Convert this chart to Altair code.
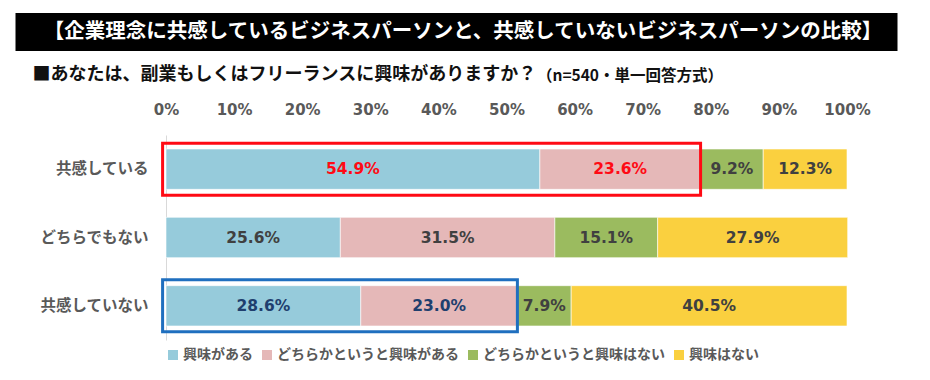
import altair as alt
import pandas as pd

# ---- data ----
categories = ["共感している", "どちらでもない", "共感していない"]
responses = ["興味がある", "どちらかというと興味がある", "どちらかというと興味はない", "興味はない"]
colors = ["#96CBDB", "#E5B8B8", "#9BBB5F", "#FAD03F"]
values_agree = [54.9, 23.6, 9.2, 12.3]
values_neutral = [25.6, 31.5, 15.1, 27.9]
values_disagree = [28.6, 23.0, 7.9, 40.5]
tick_values = [0, 10, 20, 30, 40, 50, 60, 70, 80, 90, 100]
title_text = "【企業理念に共感しているビジネスパーソンと、共感していないビジネスパーソンの比較】"
subtitle_main = "■あなたは、副業もしくはフリーランスに興味がありますか？"
subtitle_note = "（n=540・単一回答方式）"
highlight_rows = ["共感している", "共感していない"]
highlight_colors = ["#FF0A14", "#1F6FBF"]
highlight_text_colors = ["#FF0A14", "#1F3F6E"]

JP = "Noto Sans CJK JP"
NUM = "DejaVu Sans"

rows = []
all_values = [values_agree, values_neutral, values_disagree]
for cat, vals in zip(categories, all_values):
    start = 0.0
    for i, (resp, v) in enumerate(zip(responses, vals)):
        tcol = "#404040"
        if cat in highlight_rows and i < 2:
            tcol = highlight_text_colors[highlight_rows.index(cat)]
        rows.append({"cat": cat, "resp": resp, "start": start, "end": start + v,
                     "mid": start + v / 2, "label": f"{v:.1f}%", "tcol": tcol, "order": i})
        start += v
df = pd.DataFrame(rows)

hl = pd.DataFrame({
    "cat": highlight_rows,
    "x": [-0.5, -0.5],
    "x2": [sum(all_values[categories.index(c)][:2]) for c in highlight_rows],
    "hcol": highlight_colors,
})

y_scale = alt.Scale(domain=categories, paddingInner=0.41, paddingOuter=0.205)
y_enc = alt.Y("cat:N", sort=categories, scale=y_scale,
              axis=alt.Axis(title=None, ticks=False, domainColor="#D9D9D9",
                            labelFont=JP, labelFontSize=15.5, labelFontWeight="bold",
                            labelColor="#595959", labelPadding=18))

bars = alt.Chart(df).mark_bar(stroke="white", strokeWidth=0.6).encode(
    x=alt.X("start:Q", scale=alt.Scale(domain=[0, 100], nice=False),
            axis=alt.Axis(orient="top", values=tick_values, labelExpr="datum.value + '%'",
                          title=None, grid=False, domain=False, ticks=False, labelFlush=False,
                          labelPadding=18, labelFont=NUM, labelFontSize=15,
                          labelFontWeight="bold", labelColor="#595959")),
    x2="end:Q",
    y=y_enc,
    color=alt.Color("resp:N", scale=alt.Scale(domain=responses, range=colors),
                    legend=alt.Legend(title=None, orient="none", legendX=0, legendY=213,
                                      direction="horizontal", symbolType="square",
                                      symbolSize=100, symbolStrokeWidth=0,
                                      labelFont=JP, labelFontSize=14, labelFontWeight="bold",
                                      labelColor="#595959", labelOffset=3, labelLimit=0,
                                      columnPadding=7, padding=0)),
    order=alt.Order("order:Q"),
)

labels = alt.Chart(df).mark_text(font=NUM, fontSize=15.5, fontWeight="bold").encode(
    x="mid:Q",
    y=alt.Y("cat:N", sort=categories),
    text="label:N",
    color=alt.Color("tcol:N", scale=None),
)

boxes = alt.Chart(hl).mark_bar(filled=False, strokeWidth=3, size=52).encode(
    x="x:Q", x2="x2:Q",
    y=alt.Y("cat:N", sort=categories),
    stroke=alt.Stroke("hcol:N", scale=None),
)

tdf = pd.DataFrame({"t": [title_text]})
title_bar = alt.Chart(tdf).mark_rect(color="black").encode(
    x=alt.value(-150.5), x2=alt.value(731.5), y=alt.value(-122), y2=alt.value(-84))
title_txt = alt.Chart(tdf).mark_text(font=JP, fontSize=20.5, fontWeight="bold",
                                     color="white", align="center", baseline="middle").encode(
    x=alt.value(297), y=alt.value(-103), text="t:N")

sub1 = alt.Chart(pd.DataFrame({"t": [subtitle_main]})).mark_text(
    font=JP, fontSize=18, fontWeight="bold", color="#111111", align="left", baseline="middle").encode(
    x=alt.value(-133.5), y=alt.value(-60), text="t:N")
sub2 = alt.Chart(pd.DataFrame({"t": [subtitle_note]})).mark_text(
    font=JP, fontSize=15.5, fontWeight="bold", color="#111111", align="left", baseline="middle").encode(
    x=alt.value(371), y=alt.value(-59), text="t:N")

chart = alt.layer(bars, labels, boxes, title_bar, title_txt, sub1, sub2).properties(
    width=681, height=205,
    autosize=alt.AutoSizeParams(type="none"),
    padding={"left": 158, "top": 127, "right": 75, "bottom": 32},
).configure_view(stroke=None)

chart.save("out.html", embed_options={"renderer": "svg", "actions": False})
